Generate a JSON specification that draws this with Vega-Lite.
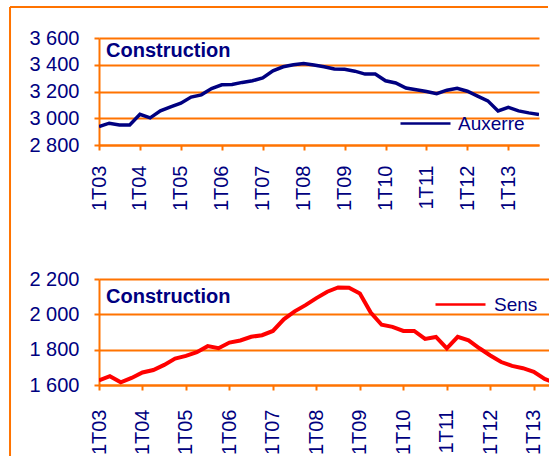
{
  "$schema": "https://vega.github.io/schema/vega-lite/v6.json",
  "background": "white",
  "padding": {"left": 9, "top": 5, "right": 0, "bottom": 0},
  "bounds": "flush",
  "spacing": 134,
  "resolve": {"scale": {"color": "independent"}, "legend": {"color": "independent"}},
  "config": {
    "view": {"stroke": null},
    "font": "Liberation Sans",
    "axis": {
      "title": null,
      "domainColor": "#ff7300",
      "domainWidth": 2,
      "tickColor": "#ff7300",
      "tickWidth": 2,
      "tickSize": 5,
      "gridColor": "#ff7300",
      "gridWidth": 2,
      "labelColor": "#000080",
      "labelFont": "Liberation Sans",
      "labelFontSize": 20,
      "labelOverlap": false,
      "labelFlush": false,
      "labelBound": false
    },
    "legend": {
      "title": null,
      "symbolType": "stroke",
      "symbolSize": 2500,
      "symbolStrokeWidth": 2.5,
      "labelFont": "Liberation Sans",
      "labelFontSize": 19,
      "labelColor": "#000080",
      "labelOffset": 6,
      "padding": 0
    }
  },
  "datasets": {
    "auxerre": [
      {"trimestre": "1T03", "t": 2003.0, "valeur": 2938, "ville": "Auxerre"},
      {"trimestre": "2T03", "t": 2003.25, "valeur": 2963, "ville": "Auxerre"},
      {"trimestre": "3T03", "t": 2003.5, "valeur": 2950, "ville": "Auxerre"},
      {"trimestre": "4T03", "t": 2003.75, "valeur": 2950, "ville": "Auxerre"},
      {"trimestre": "1T04", "t": 2004.0, "valeur": 3030, "ville": "Auxerre"},
      {"trimestre": "2T04", "t": 2004.25, "valeur": 3003, "ville": "Auxerre"},
      {"trimestre": "3T04", "t": 2004.5, "valeur": 3055, "ville": "Auxerre"},
      {"trimestre": "4T04", "t": 2004.75, "valeur": 3085, "ville": "Auxerre"},
      {"trimestre": "1T05", "t": 2005.0, "valeur": 3112, "ville": "Auxerre"},
      {"trimestre": "2T05", "t": 2005.25, "valeur": 3158, "ville": "Auxerre"},
      {"trimestre": "3T05", "t": 2005.5, "valeur": 3175, "ville": "Auxerre"},
      {"trimestre": "4T05", "t": 2005.75, "valeur": 3222, "ville": "Auxerre"},
      {"trimestre": "1T06", "t": 2006.0, "valeur": 3250, "ville": "Auxerre"},
      {"trimestre": "2T06", "t": 2006.25, "valeur": 3252, "ville": "Auxerre"},
      {"trimestre": "3T06", "t": 2006.5, "valeur": 3268, "ville": "Auxerre"},
      {"trimestre": "4T06", "t": 2006.75, "valeur": 3280, "ville": "Auxerre"},
      {"trimestre": "1T07", "t": 2007.0, "valeur": 3302, "ville": "Auxerre"},
      {"trimestre": "2T07", "t": 2007.25, "valeur": 3355, "ville": "Auxerre"},
      {"trimestre": "3T07", "t": 2007.5, "valeur": 3385, "ville": "Auxerre"},
      {"trimestre": "4T07", "t": 2007.75, "valeur": 3400, "ville": "Auxerre"},
      {"trimestre": "1T08", "t": 2008.0, "valeur": 3410, "ville": "Auxerre"},
      {"trimestre": "2T08", "t": 2008.25, "valeur": 3398, "ville": "Auxerre"},
      {"trimestre": "3T08", "t": 2008.5, "valeur": 3385, "ville": "Auxerre"},
      {"trimestre": "4T08", "t": 2008.75, "valeur": 3368, "ville": "Auxerre"},
      {"trimestre": "1T09", "t": 2009.0, "valeur": 3366, "ville": "Auxerre"},
      {"trimestre": "2T09", "t": 2009.25, "valeur": 3352, "ville": "Auxerre"},
      {"trimestre": "3T09", "t": 2009.5, "valeur": 3330, "ville": "Auxerre"},
      {"trimestre": "4T09", "t": 2009.75, "valeur": 3330, "ville": "Auxerre"},
      {"trimestre": "1T10", "t": 2010.0, "valeur": 3280, "ville": "Auxerre"},
      {"trimestre": "2T10", "t": 2010.25, "valeur": 3264, "ville": "Auxerre"},
      {"trimestre": "3T10", "t": 2010.5, "valeur": 3226, "ville": "Auxerre"},
      {"trimestre": "4T10", "t": 2010.75, "valeur": 3213, "ville": "Auxerre"},
      {"trimestre": "1T11", "t": 2011.0, "valeur": 3200, "ville": "Auxerre"},
      {"trimestre": "2T11", "t": 2011.25, "valeur": 3184, "ville": "Auxerre"},
      {"trimestre": "3T11", "t": 2011.5, "valeur": 3210, "ville": "Auxerre"},
      {"trimestre": "4T11", "t": 2011.75, "valeur": 3224, "ville": "Auxerre"},
      {"trimestre": "1T12", "t": 2012.0, "valeur": 3202, "ville": "Auxerre"},
      {"trimestre": "2T12", "t": 2012.25, "valeur": 3166, "ville": "Auxerre"},
      {"trimestre": "3T12", "t": 2012.5, "valeur": 3130, "ville": "Auxerre"},
      {"trimestre": "4T12", "t": 2012.75, "valeur": 3055, "ville": "Auxerre"},
      {"trimestre": "1T13", "t": 2013.0, "valeur": 3082, "ville": "Auxerre"},
      {"trimestre": "2T13", "t": 2013.25, "valeur": 3055, "ville": "Auxerre"},
      {"trimestre": "3T13", "t": 2013.5, "valeur": 3040, "ville": "Auxerre"},
      {"trimestre": "4T13", "t": 2013.75, "valeur": 3028, "ville": "Auxerre"}
    ],
    "sens": [
      {"trimestre": "1T03", "t": 2003.0, "valeur": 1626, "ville": "Sens"},
      {"trimestre": "2T03", "t": 2003.25, "valeur": 1650, "ville": "Sens"},
      {"trimestre": "3T03", "t": 2003.5, "valeur": 1615, "ville": "Sens"},
      {"trimestre": "4T03", "t": 2003.75, "valeur": 1640, "ville": "Sens"},
      {"trimestre": "1T04", "t": 2004.0, "valeur": 1671, "ville": "Sens"},
      {"trimestre": "2T04", "t": 2004.25, "valeur": 1685, "ville": "Sens"},
      {"trimestre": "3T04", "t": 2004.5, "valeur": 1714, "ville": "Sens"},
      {"trimestre": "4T04", "t": 2004.75, "valeur": 1750, "ville": "Sens"},
      {"trimestre": "1T05", "t": 2005.0, "valeur": 1765, "ville": "Sens"},
      {"trimestre": "2T05", "t": 2005.25, "valeur": 1786, "ville": "Sens"},
      {"trimestre": "3T05", "t": 2005.5, "valeur": 1820, "ville": "Sens"},
      {"trimestre": "4T05", "t": 2005.75, "valeur": 1808, "ville": "Sens"},
      {"trimestre": "1T06", "t": 2006.0, "valeur": 1840, "ville": "Sens"},
      {"trimestre": "2T06", "t": 2006.25, "valeur": 1852, "ville": "Sens"},
      {"trimestre": "3T06", "t": 2006.5, "valeur": 1873, "ville": "Sens"},
      {"trimestre": "4T06", "t": 2006.75, "valeur": 1882, "ville": "Sens"},
      {"trimestre": "1T07", "t": 2007.0, "valeur": 1906, "ville": "Sens"},
      {"trimestre": "2T07", "t": 2007.25, "valeur": 1972, "ville": "Sens"},
      {"trimestre": "3T07", "t": 2007.5, "valeur": 2017, "ville": "Sens"},
      {"trimestre": "4T07", "t": 2007.75, "valeur": 2052, "ville": "Sens"},
      {"trimestre": "1T08", "t": 2008.0, "valeur": 2092, "ville": "Sens"},
      {"trimestre": "2T08", "t": 2008.25, "valeur": 2128, "ville": "Sens"},
      {"trimestre": "3T08", "t": 2008.5, "valeur": 2152, "ville": "Sens"},
      {"trimestre": "4T08", "t": 2008.75, "valeur": 2150, "ville": "Sens"},
      {"trimestre": "1T09", "t": 2009.0, "valeur": 2118, "ville": "Sens"},
      {"trimestre": "2T09", "t": 2009.25, "valeur": 2010, "ville": "Sens"},
      {"trimestre": "3T09", "t": 2009.5, "valeur": 1941, "ville": "Sens"},
      {"trimestre": "4T09", "t": 2009.75, "valeur": 1929, "ville": "Sens"},
      {"trimestre": "1T10", "t": 2010.0, "valeur": 1906, "ville": "Sens"},
      {"trimestre": "2T10", "t": 2010.25, "valeur": 1906, "ville": "Sens"},
      {"trimestre": "3T10", "t": 2010.5, "valeur": 1861, "ville": "Sens"},
      {"trimestre": "4T10", "t": 2010.75, "valeur": 1872, "ville": "Sens"},
      {"trimestre": "1T11", "t": 2011.0, "valeur": 1807, "ville": "Sens"},
      {"trimestre": "2T11", "t": 2011.25, "valeur": 1873, "ville": "Sens"},
      {"trimestre": "3T11", "t": 2011.5, "valeur": 1853, "ville": "Sens"},
      {"trimestre": "4T11", "t": 2011.75, "valeur": 1808, "ville": "Sens"},
      {"trimestre": "1T12", "t": 2012.0, "valeur": 1767, "ville": "Sens"},
      {"trimestre": "2T12", "t": 2012.25, "valeur": 1730, "ville": "Sens"},
      {"trimestre": "3T12", "t": 2012.5, "valeur": 1708, "ville": "Sens"},
      {"trimestre": "4T12", "t": 2012.75, "valeur": 1695, "ville": "Sens"},
      {"trimestre": "1T13", "t": 2013.0, "valeur": 1675, "ville": "Sens"},
      {"trimestre": "2T13", "t": 2013.25, "valeur": 1634, "ville": "Sens"},
      {"trimestre": "3T13", "t": 2013.5, "valeur": 1612, "ville": "Sens"}
    ]
  },
  "vconcat": [
    {
      "width": 440,
      "height": 107,
      "layer": [
        {
          "data": {"name": "auxerre"},
          "mark": {"type": "line", "strokeWidth": 3.5, "clip": true},
          "encoding": {
            "x": {"field": "t", "type": "quantitative",
                  "scale": {"domain": [2003, 2013.75], "nice": false, "zero": false},
                  "axis": {"values": [2003, 2004, 2005, 2006, 2007, 2008, 2009, 2010, 2011, 2012, 2013], "grid": false, "labelAngle": 270, "labelPadding": 15, "labelExpr": "'1T' + substring(toString(datum.value), 2, 4)"}},
            "y": {"field": "valeur", "type": "quantitative",
                  "scale": {"domain": [2800, 3600], "nice": false, "zero": false},
                  "axis": {"values": [2800, 3000, 3200, 3400, 3600], "grid": true, "labelPadding": 15, "labelExpr": "replace(format(datum.value, ','), ',', ' ')"}},
            "color": {"field": "ville", "type": "nominal", "scale": {"range": ["#000080"]},
                      "legend": {"orient": "none", "legendX": 300, "legendY": 59}}
          }
        },
        {
          "data": {"values": [{"titre": "Construction"}]},
          "mark": {"type": "text", "align": "left", "baseline": "top", "dx": 7, "dy": 3, "fontSize": 20, "fontWeight": "bold", "color": "#000080", "font": "Liberation Sans"},
          "encoding": {
            "x": {"datum": 2003, "type": "quantitative", "axis": {"values": [2003, 2004, 2005, 2006, 2007, 2008, 2009, 2010, 2011, 2012, 2013], "grid": false, "labelAngle": 270, "labelPadding": 15, "labelExpr": "'1T' + substring(toString(datum.value), 2, 4)"}},
            "y": {"datum": 3600, "type": "quantitative", "axis": {"values": [2800, 3000, 3200, 3400, 3600], "grid": true, "labelPadding": 15, "labelExpr": "replace(format(datum.value, ','), ',', ' ')"}},
            "text": {"field": "titre"}
          }
        },
        {
          "data": {"values": [{}]},
          "mark": {"type": "rule", "color": "#ff7300", "strokeWidth": 2, "clip": false},
          "encoding": {
            "x": {"datum": 2000.826, "type": "quantitative", "axis": {"values": [2003, 2004, 2005, 2006, 2007, 2008, 2009, 2010, 2011, 2012, 2013], "grid": false, "labelAngle": 270, "labelPadding": 15, "labelExpr": "'1T' + substring(toString(datum.value), 2, 4)"}},
            "y": {"datum": 3832, "type": "quantitative", "axis": {"values": [2800, 3000, 3200, 3400, 3600], "grid": true, "labelPadding": 15, "labelExpr": "replace(format(datum.value, ','), ',', ' ')"}},
            "y2": {"datum": 475}
          }
        },
        {
          "data": {"values": [{}]},
          "mark": {"type": "rule", "color": "#ff7300", "strokeWidth": 2, "clip": false},
          "encoding": {
            "x": {"datum": 2000.826, "type": "quantitative", "axis": {"values": [2003, 2004, 2005, 2006, 2007, 2008, 2009, 2010, 2011, 2012, 2013], "grid": false, "labelAngle": 270, "labelPadding": 15, "labelExpr": "'1T' + substring(toString(datum.value), 2, 4)"}},
            "x2": {"datum": 2013.97},
            "y": {"datum": 3832, "type": "quantitative", "axis": {"values": [2800, 3000, 3200, 3400, 3600], "grid": true, "labelPadding": 15, "labelExpr": "replace(format(datum.value, ','), ',', ' ')"}}
          }
        }
      ]
    },
    {
      "width": 450,
      "height": 106,
      "layer": [
        {
          "data": {"name": "sens"},
          "mark": {"type": "line", "strokeWidth": 4, "clip": true},
          "encoding": {
            "x": {"field": "t", "type": "quantitative",
                  "scale": {"domain": [2003, 2013.35], "nice": false, "zero": false},
                  "axis": {"values": [2003, 2004, 2005, 2006, 2007, 2008, 2009, 2010, 2011, 2012, 2013], "grid": false, "labelAngle": 270, "labelPadding": 19, "labelExpr": "'1T' + substring(toString(datum.value), 2, 4)"}},
            "y": {"field": "valeur", "type": "quantitative",
                  "scale": {"domain": [1600, 2200], "nice": false, "zero": false},
                  "axis": {"values": [1600, 1800, 2000, 2200], "grid": true, "labelPadding": 15, "labelExpr": "replace(format(datum.value, ','), ',', ' ')"}},
            "color": {"field": "ville", "type": "nominal", "scale": {"range": ["#ff0000"]},
                      "legend": {"orient": "none", "legendX": 335, "legendY": -1, "labelOffset": 7}}
          }
        },
        {
          "data": {"values": [{"titre": "Construction"}]},
          "mark": {"type": "text", "align": "left", "baseline": "top", "dx": 7, "dy": 8, "fontSize": 20, "fontWeight": "bold", "color": "#000080", "font": "Liberation Sans"},
          "encoding": {
            "x": {"datum": 2003, "type": "quantitative", "axis": {"values": [2003, 2004, 2005, 2006, 2007, 2008, 2009, 2010, 2011, 2012, 2013], "grid": false, "labelAngle": 270, "labelPadding": 19, "labelExpr": "'1T' + substring(toString(datum.value), 2, 4)"}},
            "y": {"datum": 2200, "type": "quantitative", "axis": {"values": [1600, 1800, 2000, 2200], "grid": true, "labelPadding": 15, "labelExpr": "replace(format(datum.value, ','), ',', ' ')"}},
            "text": {"field": "titre"}
          }
        }
      ]
    }
  ]
}
